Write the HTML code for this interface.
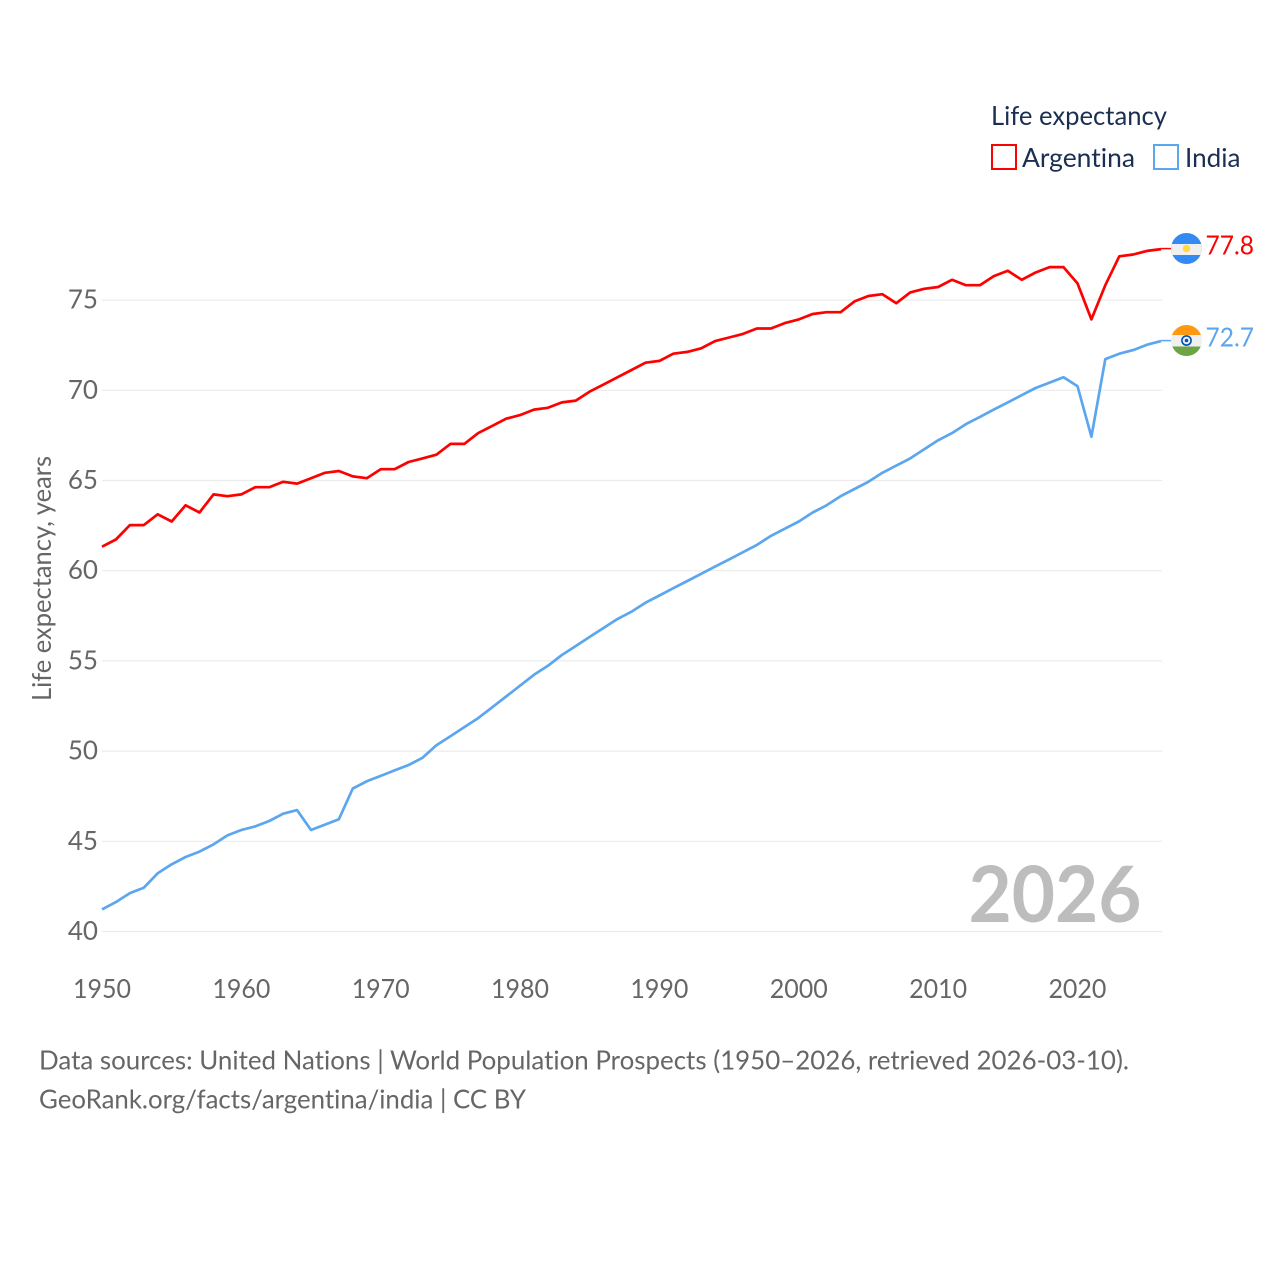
<!DOCTYPE html>
<html lang="en">
<head>
<meta charset="utf-8">
<title>Life expectancy: Argentina vs India</title>
<style>
html,body{margin:0;padding:0;background:#fff;width:1280px;height:1280px;overflow:hidden}
svg{display:block}
text{font-family:"Lato","Carlito","Liberation Sans",sans-serif;font-size:26px;font-variant-ligatures:none}
</style>
</head>
<body>
<svg id="chart" xmlns="http://www.w3.org/2000/svg" width="1280" height="1280" viewBox="0 0 1280 1280">
  <defs>
    <clipPath id="flag-clip-ar"><circle cx="1186.5" cy="248.5" r="15.5"/></clipPath>
    <clipPath id="flag-clip-in"><circle cx="1186.5" cy="340.5" r="15.5"/></clipPath>
  </defs>
  <g id="grid"></g>
  <g id="yticks"></g>
  <g id="xticks"></g>
  <g id="series"></g>

  <text transform="translate(51,578.5) rotate(-90)" text-anchor="middle" fill="#666" textLength="245" lengthAdjust="spacingAndGlyphs">Life expectancy, years</text>

  <text x="968.5" y="922" fill="#bdbdbd" font-weight="700" style="font-size:78px" textLength="173" lengthAdjust="spacingAndGlyphs">2026</text>

  <g>
    <text x="991" y="125" fill="#1a2f52" textLength="176" lengthAdjust="spacingAndGlyphs">Life expectancy</text>
    <rect x="992" y="145" width="24" height="24" fill="#fff" stroke="#ff0000" stroke-width="2"/>
    <text x="1022" y="167" fill="#1a2f52" textLength="113" lengthAdjust="spacingAndGlyphs">Argentina</text>
    <rect x="1154" y="145" width="24" height="24" fill="#fff" stroke="#5ba6ee" stroke-width="2"/>
    <text x="1185" y="167" fill="#1a2f52" textLength="55.5" lengthAdjust="spacingAndGlyphs">India</text>
  </g>

  <g clip-path="url(#flag-clip-ar)">
    <rect x="1171" y="233" width="31" height="32" fill="#338af3"/>
    <rect x="1171" y="244" width="31" height="11" fill="#f0f0f0"/>
    <circle cx="1186.5" cy="248.5" r="3.8" fill="#ffda44"/>
  </g>
  <g clip-path="url(#flag-clip-in)">
    <rect x="1171" y="325" width="31" height="11" fill="#ff9811"/>
    <rect x="1171" y="335" width="31" height="12" fill="#f0f0f0"/>
    <rect x="1171" y="346.5" width="31" height="11" fill="#6da544"/>
    <circle cx="1186.5" cy="340.5" r="4.6" fill="none" stroke="#0052b4" stroke-width="1.6"/>
    <circle cx="1186.5" cy="340.5" r="1.8" fill="#0052b4"/>
  </g>

  <g id="endlabels"></g>

  <g>
    <text x="39" y="1069.5" fill="#666" textLength="1090" lengthAdjust="spacingAndGlyphs">Data sources: United Nations | World Population Prospects (1950–2026, retrieved 2026-03-10).</text>
    <text x="39" y="1108.5" fill="#666" textLength="487" lengthAdjust="spacingAndGlyphs">GeoRank.org/facts/argentina/india | CC BY</text>
  </g>
</svg>
<script>
const years = [1950,1951,1952,1953,1954,1955,1956,1957,1958,1959,1960,1961,1962,1963,1964,1965,1966,1967,1968,1969,1970,1971,1972,1973,1974,1975,1976,1977,1978,1979,1980,1981,1982,1983,1984,1985,1986,1987,1988,1989,1990,1991,1992,1993,1994,1995,1996,1997,1998,1999,2000,2001,2002,2003,2004,2005,2006,2007,2008,2009,2010,2011,2012,2013,2014,2015,2016,2017,2018,2019,2020,2021,2022,2023,2024,2025,2026];
const argentina = [61.3,61.7,62.5,62.5,63.1,62.7,63.6,63.2,64.2,64.1,64.2,64.6,64.6,64.9,64.8,65.1,65.4,65.5,65.2,65.1,65.6,65.6,66.0,66.2,66.4,67.0,67.0,67.6,68.0,68.4,68.6,68.9,69.0,69.3,69.4,69.9,70.3,70.7,71.1,71.5,71.6,72.0,72.1,72.3,72.7,72.9,73.1,73.4,73.4,73.7,73.9,74.2,74.3,74.3,74.9,75.2,75.3,74.8,75.4,75.6,75.7,76.1,75.8,75.8,76.3,76.6,76.1,76.5,76.8,76.8,75.9,73.9,75.8,77.4,77.5,77.7,77.8];
const india = [41.2,41.6,42.1,42.4,43.2,43.7,44.1,44.4,44.8,45.3,45.6,45.8,46.1,46.5,46.7,45.6,45.9,46.2,47.9,48.3,48.6,48.9,49.2,49.6,50.3,50.8,51.3,51.8,52.4,53.0,53.6,54.2,54.7,55.3,55.8,56.3,56.8,57.3,57.7,58.2,58.6,59.0,59.4,59.8,60.2,60.6,61.0,61.4,61.9,62.3,62.7,63.2,63.6,64.1,64.5,64.9,65.4,65.8,66.2,66.7,67.2,67.6,68.1,68.5,68.9,69.3,69.7,70.1,70.4,70.7,70.2,67.4,71.7,72.0,72.2,72.5,72.7];
const yTickValues = [40,45,50,55,60,65,70,75];
const xTickValues = [1950,1960,1970,1980,1990,2000,2010,2020];

const NS = 'http://www.w3.org/2000/svg';
function xScale(year) { return 102 + (year - 1950) * 13.935; }
function yScale(value) { return 931.5 - (value - 40) * 18.04; }
function lineY(value) { return yScale(value) - 0.5; }
function make(tag, parent) {
  const el = document.createElementNS(NS, tag);
  parent.appendChild(el);
  return el;
}

const gridGroup = document.getElementById('grid');
const yGroup = document.getElementById('yticks');
const xGroup = document.getElementById('xticks');
const seriesGroup = document.getElementById('series');
const endGroup = document.getElementById('endlabels');

yTickValues.forEach(function (v) {
  const line = make('line', gridGroup);
  
  
  line.setAttribute('x1', 102);
  line.setAttribute('x2', 1162);
  line.setAttribute('y1', yScale(v));
  line.setAttribute('y2', yScale(v));
  line.setAttribute('stroke', '#ebebeb');
  line.setAttribute('stroke-width', 1.2);

  const label = make('text', yGroup);
  
  
  label.setAttribute('x', 98);
  label.setAttribute('y', yScale(v) + 8.5);
  label.setAttribute('text-anchor', 'end');
  label.setAttribute('fill', '#666');
  label.textContent = String(v);
});

xTickValues.forEach(function (y) {
  const label = make('text', xGroup);
  
  
  label.setAttribute('x', xScale(y));
  label.setAttribute('y', 998);
  label.setAttribute('text-anchor', 'middle');
  label.setAttribute('fill', '#666');
  label.setAttribute('textLength', 58);
  label.setAttribute('lengthAdjust', 'spacingAndGlyphs');
  label.textContent = String(y);
});

function drawSeries(values, color, lineName, leaderName, labelName) {
  const pts = values.map(function (v, i) {
    return xScale(years[i]).toFixed(1) + ',' + lineY(v).toFixed(1);
  }).join(' ');
  const line = make('polyline', seriesGroup);
  
  
  line.setAttribute('points', pts);
  line.setAttribute('fill', 'none');
  line.setAttribute('stroke', color);
  line.setAttribute('stroke-width', 2.7);
  line.setAttribute('stroke-linejoin', 'round');

  const last = values[values.length - 1];
  const lastX = xScale(years[years.length - 1]);
  const lastY = yScale(last);
  const leader = make('line', seriesGroup);
  
  
  leader.setAttribute('x1', lastX);
  leader.setAttribute('x2', lastX + 12);
  leader.setAttribute('y1', lastY - 1);
  leader.setAttribute('y2', lastY - 1);
  leader.setAttribute('stroke', color);
  leader.setAttribute('stroke-width', 1.5);

  const label = make('text', endGroup);
  
  
  label.setAttribute('x', 1205.5);
  label.setAttribute('y', lastY + 5);
  label.setAttribute('fill', color);
  label.setAttribute('textLength', 48.5);
  label.setAttribute('lengthAdjust', 'spacingAndGlyphs');
  label.textContent = last.toFixed(1);
}

drawSeries(india, '#5ba6ee', 'line-india', 'leader-india', 'end-label-india');
drawSeries(argentina, '#ff0000', 'line-argentina', 'leader-argentina', 'end-label-argentina');
</script>
</body>
</html>
